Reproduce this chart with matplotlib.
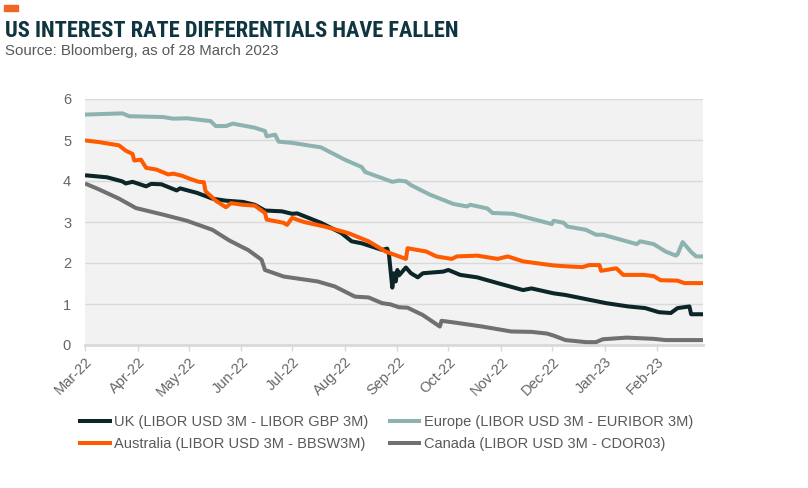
import pandas as pd
import matplotlib
matplotlib.use('Agg')
import matplotlib.pyplot as plt
import matplotlib.dates as mdates
from matplotlib import font_manager
from matplotlib.patches import Rectangle

# data (dates, spread in %)
uk_dates = ['2022-03-01', '2022-03-14', '2022-03-23', '2022-03-25', '2022-03-29', '2022-04-06',
            '2022-04-09', '2022-04-15', '2022-04-24', '2022-04-26', '2022-05-06', '2022-05-15',
            '2022-05-23', '2022-06-02', '2022-06-09', '2022-06-15', '2022-06-25', '2022-07-01',
            '2022-07-04', '2022-07-18', '2022-07-30', '2022-08-05', '2022-08-11', '2022-08-23',
            '2022-08-26', '2022-08-27', '2022-08-29', '2022-08-30', '2022-08-31', '2022-09-01',
            '2022-09-02', '2022-09-06', '2022-09-09', '2022-09-13', '2022-09-16', '2022-09-28',
            '2022-10-01', '2022-10-08', '2022-10-18', '2022-10-30', '2022-11-14', '2022-11-19',
            '2022-12-02', '2022-12-09', '2022-12-21', '2023-01-02', '2023-01-15', '2023-01-25',
            '2023-02-02', '2023-02-09', '2023-02-13', '2023-02-20', '2023-02-21', '2023-02-28']
uk_vals = [4.14, 4.09, 3.99, 3.94, 3.98, 3.87,
           3.93, 3.92, 3.77, 3.82, 3.71, 3.57,
           3.52, 3.49, 3.42, 3.28, 3.26, 3.20,
           3.21, 2.98, 2.73, 2.53, 2.48, 2.32,
           2.35, 2.22, 1.40, 1.75, 1.55, 1.83,
           1.70, 1.89, 1.75, 1.65, 1.75, 1.79,
           1.83, 1.71, 1.65, 1.51, 1.34, 1.38,
           1.26, 1.22, 1.12, 1.02, 0.94, 0.90,
           0.80, 0.78, 0.90, 0.94, 0.75, 0.75]

eu_dates = ['2022-03-01', '2022-03-23', '2022-03-27', '2022-04-16', '2022-04-22', '2022-04-30',
            '2022-05-14', '2022-05-17', '2022-05-23', '2022-05-27', '2022-06-09', '2022-06-15',
            '2022-06-16', '2022-06-21', '2022-06-23', '2022-07-01', '2022-07-18', '2022-08-01',
            '2022-08-11', '2022-08-13', '2022-08-29', '2022-09-02', '2022-09-06', '2022-09-09',
            '2022-09-20', '2022-10-04', '2022-10-12', '2022-10-14', '2022-10-24', '2022-10-27',
            '2022-11-08', '2022-11-19', '2022-12-01', '2022-12-02', '2022-12-08', '2022-12-10',
            '2022-12-21', '2022-12-27', '2022-12-31', '2023-01-14', '2023-01-20', '2023-01-22',
            '2023-01-30', '2023-02-06', '2023-02-12', '2023-02-13', '2023-02-16', '2023-02-21',
            '2023-02-24', '2023-02-28']
eu_vals = [5.62, 5.65, 5.58, 5.56, 5.52, 5.53,
           5.46, 5.34, 5.34, 5.40, 5.30, 5.22,
           5.09, 5.13, 4.96, 4.93, 4.82, 4.52,
           4.34, 4.22, 3.98, 4.01, 3.99, 3.90,
           3.67, 3.44, 3.38, 3.42, 3.33, 3.22,
           3.20, 3.08, 2.95, 3.03, 2.98, 2.89,
           2.81, 2.69, 2.69, 2.53, 2.46, 2.53,
           2.46, 2.28, 2.18, 2.21, 2.51, 2.27,
           2.16, 2.16]

au_dates = ['2022-03-01', '2022-03-09', '2022-03-21', '2022-03-25', '2022-03-29', '2022-03-30',
            '2022-04-03', '2022-04-06', '2022-04-12', '2022-04-19', '2022-04-22', '2022-04-27',
            '2022-05-02', '2022-05-07', '2022-05-10', '2022-05-11', '2022-05-17', '2022-05-23',
            '2022-05-26', '2022-06-02', '2022-06-09', '2022-06-15', '2022-06-16', '2022-06-26',
            '2022-06-28', '2022-07-01', '2022-07-08', '2022-07-20', '2022-08-03', '2022-08-15',
            '2022-08-25', '2022-09-02', '2022-09-06', '2022-09-07', '2022-09-18', '2022-09-24',
            '2022-10-03', '2022-10-06', '2022-10-18', '2022-10-30', '2022-11-05', '2022-11-14',
            '2022-12-02', '2022-12-09', '2022-12-19', '2022-12-23', '2022-12-29', '2022-12-30',
            '2023-01-08', '2023-01-12', '2023-01-24', '2023-01-30', '2023-02-03', '2023-02-13',
            '2023-02-17', '2023-02-28']
au_vals = [4.99, 4.95, 4.87, 4.74, 4.66, 4.50,
           4.52, 4.32, 4.28, 4.16, 4.18, 4.13,
           4.05, 3.98, 3.97, 3.75, 3.52, 3.36,
           3.46, 3.42, 3.40, 3.22, 3.06, 2.98,
           2.93, 3.10, 3.00, 2.89, 2.73, 2.53,
           2.28, 2.16, 2.10, 2.36, 2.28, 2.16,
           2.10, 2.16, 2.18, 2.10, 2.16, 2.04,
           1.94, 1.92, 1.90, 1.95, 1.95, 1.81,
           1.87, 1.71, 1.71, 1.68, 1.58, 1.57,
           1.51, 1.51]

ca_dates = ['2022-03-01', '2022-03-09', '2022-03-21', '2022-03-31', '2022-04-16', '2022-04-30',
            '2022-05-15', '2022-05-25', '2022-06-02', '2022-06-05', '2022-06-13', '2022-06-15',
            '2022-06-26', '2022-07-16', '2022-07-26', '2022-08-07', '2022-08-15', '2022-08-23',
            '2022-08-28', '2022-09-02', '2022-09-07', '2022-09-16', '2022-09-26', '2022-09-27',
            '2022-10-06', '2022-10-21', '2022-11-07', '2022-11-19', '2022-11-28', '2022-12-02',
            '2022-12-09', '2022-12-21', '2022-12-27', '2022-12-31', '2023-01-14', '2023-01-30',
            '2023-02-06', '2023-02-28']
ca_vals = [3.94, 3.80, 3.57, 3.34, 3.18, 3.03,
           2.81, 2.55, 2.38, 2.32, 2.08, 1.83,
           1.67, 1.55, 1.43, 1.18, 1.16, 1.02,
           0.99, 0.92, 0.91, 0.73, 0.45, 0.59,
           0.54, 0.45, 0.33, 0.32, 0.28, 0.23,
           0.12, 0.07, 0.07, 0.14, 0.18, 0.15,
           0.12, 0.12]

labels = ['UK (LIBOR USD 3M - LIBOR GBP 3M)', 'Europe (LIBOR USD 3M - EURIBOR 3M)',
          'Australia (LIBOR USD 3M - BBSW3M)', 'Canada (LIBOR USD 3M - CDOR03)']
colors = ['#0b2529', '#8db3b0', '#ff5a00', '#707070']

names = {f.name for f in font_manager.fontManager.ttflist}
body_font = 'Liberation Sans' if 'Liberation Sans' in names else 'DejaVu Sans'
title_font = next((f for f in ['Roboto Condensed', 'Liberation Sans Narrow', 'Arial Narrow',
                               'Open Sans Condensed', 'Roboto'] if f in names), body_font)
plt.rcParams['font.family'] = body_font

fig = plt.figure(figsize=(8.08, 4.88), dpi=100)
fig.patch.set_facecolor('white')
ax = fig.add_axes([85 / 808, 1 - 345 / 488, 618 / 808, 246 / 488])
ax.set_facecolor('#f2f2f2')

series = [(uk_dates, uk_vals), (eu_dates, eu_vals), (au_dates, au_vals), (ca_dates, ca_vals)]
lines = []
for (d, v), lab, c in zip(series, labels, colors):
    ln, = ax.plot(pd.to_datetime(d), v, color=c, lw=2.9, label=lab,
                  solid_joinstyle='round', solid_capstyle='butt', zorder=3)
    lines.append(ln)

ax.set_xlim(pd.Timestamp('2022-03-01'), pd.Timestamp('2023-02-28'))
ax.set_ylim(0, 6)
ax.set_yticks(range(0, 7))
ax.yaxis.grid(True, color='#d9d9d9', lw=1.0)
ax.set_axisbelow(True)
for s in ['left', 'right', 'top']:
    ax.spines[s].set_visible(False)
ax.spines['bottom'].set_color('#d9d9d9')
ax.spines['bottom'].set_linewidth(2.0)

ax.xaxis.set(
    major_locator=mdates.MonthLocator(),
    major_formatter=mdates.DateFormatter('%b-%y'),
)
ax.tick_params(axis='x', colors='#d9d9d9', length=4, width=1, labelcolor='#666666',
               labelsize=10.5, pad=3)
ax.tick_params(axis='y', length=0, pad=10, labelcolor='#666666', labelsize=10.5)
for lbl in ax.get_xticklabels():
    lbl.set_rotation(45)
    lbl.set_ha('right')
    lbl.set_va('top')
    lbl.set_rotation_mode('anchor')

# legend: row 1 UK / Europe, row 2 Australia / Canada
order = [0, 2, 1, 3]
fig.legend([lines[i] for i in order], [labels[i] for i in order], ncol=2,
           loc='upper left', bbox_to_anchor=(78 / 808, 1 - 415 / 488),
           frameon=False, fontsize=10.5, handlelength=2.3, handletextpad=0.2,
           columnspacing=1.3, labelspacing=0.55, borderpad=0, borderaxespad=0,
           labelcolor='#595959')

# header
fig.patches.append(Rectangle((4 / 808, 1 - 10.5 / 488), 14 / 808, 5.5 / 488,
                             transform=fig.transFigure, color='#f26522'))
title = fig.text(5 / 808, 1 - 37.3 / 488, 'US INTEREST RATE DIFFERENTIALS HAVE FALLEN',
                 family=title_font, fontweight='bold', fontsize=16.5, color='#0f3540',
                 va='baseline')
# shrink the title so it spans the same width as in the reference (~452 px)
renderer = fig.canvas.get_renderer()
w = title.get_window_extent(renderer).width
if w > 455:
    title.set_fontsize(16.5 * 452 / w)
fig.text(5 / 808, 1 - 55 / 488, 'Source: Bloomberg, as of 28 March 2023',
         fontsize=10.8, color='#58595b', va='baseline')

fig.savefig('out.png', dpi=100, facecolor='white')
